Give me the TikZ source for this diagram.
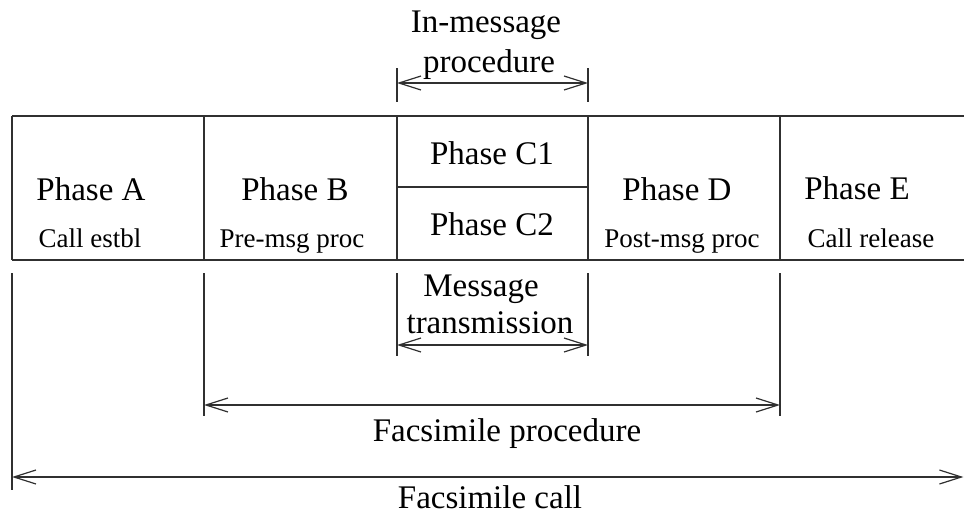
\documentclass[tikz,border=0pt]{standalone}
\usepackage{fontspec}
\setmainfont{Liberation Serif}
\usetikzlibrary{arrows.meta}
\definecolor{ink}{HTML}{303030}
\begin{document}
\begin{tikzpicture}[x=1pt,y=-1pt,
  big/.style={font=\fontsize{33}{38}\selectfont, anchor=base, inner sep=0pt},
  small/.style={font=\fontsize{27}{32}\selectfont, anchor=base, inner sep=0pt},
  rule/.style={draw=ink, line width=1.2pt},
  span/.style={rule, {Straight Barb[length=22pt,width=14pt]}-{Straight Barb[length=22pt,width=14pt]}}]
\useasboundingbox (0,0) rectangle (964,515);

% table corners and column borders
\coordinate (tl) at (12,116);
\coordinate (tr) at (964,116);
\coordinate (bl) at (12,260);
\coordinate (br) at (964,260);
\foreach \n/\x in {ab/204, bc/397, cd/588, de/780}{
  \coordinate (\n top) at (\x,116);
  \coordinate (\n bot) at (\x,260);
}
\coordinate (cmidl) at (397,187);
\coordinate (cmidr) at (588,187);

\draw[rule] (tl) -- (tr);
\draw[rule] (bl) -- (br);
\draw[rule] (tl) -- (bl);
\foreach \n in {ab, bc, cd, de}{ \draw[rule] (\n top) -- (\n bot); }
\draw[rule] (cmidl) -- (cmidr);

% cell texts
\node[big] (pa) at (91,200) {Phase A};
\node[small] (sa) at (90,247) {Call estbl};
\node[big] (pb) at (295,200) {Phase B};
\node[small] (sb) at (292,247) {Pre-msg proc};
\node[big] (pc1) at (492,164) {Phase C1};
\node[big] (pc2) at (492,235) {Phase C2};
\node[big] (pd) at (677,200) {Phase D};
\node[small] (sd) at (682,247) {Post-msg proc};
\node[big] (pe) at (857,199) {Phase E};
\node[small] (se) at (871,247) {Call release};

% extension lines above the table
\coordinate (im1t) at (397,68);  \coordinate (im1b) at (397,102);
\coordinate (im2t) at (588,68);  \coordinate (im2b) at (588,102);
\draw[rule] (im1t) -- (im1b);
\draw[rule] (im2t) -- (im2b);

% extension lines below the table
\coordinate (mt1t) at (397,273); \coordinate (mt1b) at (397,356);
\coordinate (mt2t) at (588,273); \coordinate (mt2b) at (588,356);
\coordinate (fp1t) at (204,273); \coordinate (fp1b) at (204,416);
\coordinate (fp2t) at (780,273); \coordinate (fp2b) at (780,416);
\coordinate (fc1t) at (12,273);  \coordinate (fc1b) at (12,490);
\draw[rule] (mt1t) -- (mt1b);
\draw[rule] (mt2t) -- (mt2b);
\draw[rule] (fp1t) -- (fp1b);
\draw[rule] (fp2t) -- (fp2b);
\draw[rule] (fc1t) -- (fc1b);

% dimension arrows
\coordinate (ima) at (397,83);  \coordinate (imb) at (588,83);
\coordinate (mta) at (397,345); \coordinate (mtb) at (588,345);
\coordinate (fpa) at (204,405); \coordinate (fpb) at (780,405);
\coordinate (fca) at (12,477);  \coordinate (fcb) at (963.4,477);
\draw[span] (ima) -- (imb);
\draw[span] (mta) -- (mtb);
\draw[span] (fpa) -- (fpb);
\draw[span] (fca) -- (fcb);

% span labels
\node[big] (im1) at (486,32) {In-message};
\node[big] (im2) at (489,72) {procedure};
\node[big] (mt1) at (481,296) {Message};
\node[big] (mt2) at (490,333) {transmission};
\node[big] (fp) at (507,441) {Facsimile procedure};
\node[big] (fc) at (490,508) {Facsimile call};
\end{tikzpicture}
\end{document}
